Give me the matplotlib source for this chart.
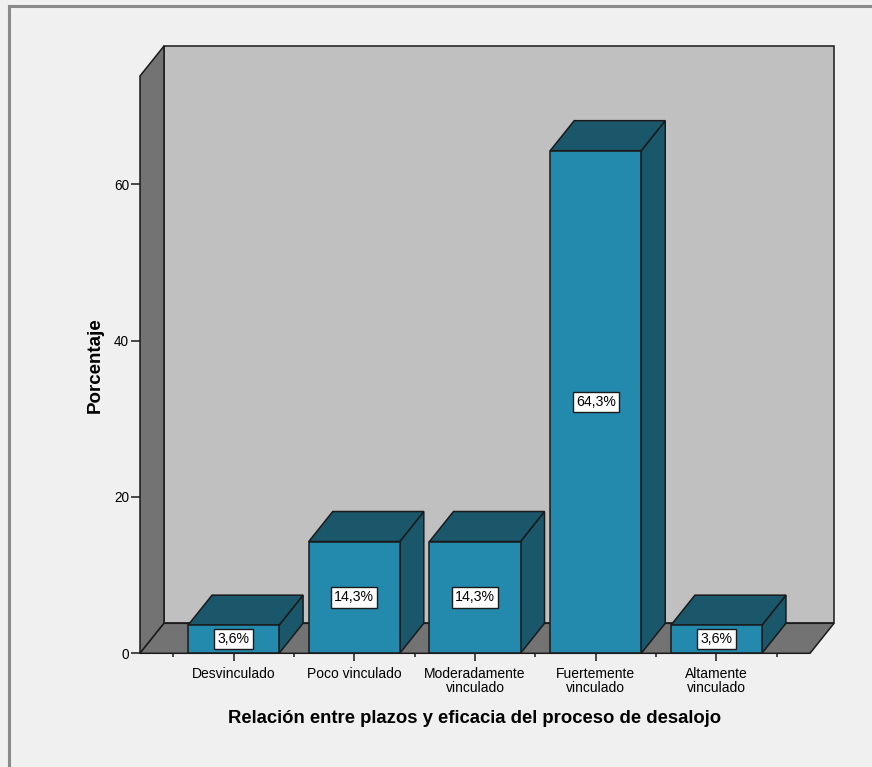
import matplotlib
matplotlib.use("Agg")
import matplotlib.pyplot as plt
from matplotlib.patches import Polygon, Rectangle
from matplotlib.transforms import ScaledTranslation
from matplotlib.ticker import FixedLocator

plt.rcParams['font.family'] = ['Liberation Sans', 'DejaVu Sans']

categories = ["Desvinculado", "Poco vinculado", "Moderadamente\nvinculado",
              "Fuertemente\nvinculado", "Altamente\nvinculado"]
percentages = [3.6, 14.3, 14.3, 64.3, 3.6]
value_labels = ["3,6%", "14,3%", "14,3%", "64,3%", "3,6%"]
y_ticks = [0, 20, 40, 60]
x_title = "Relación entre plazos y eficacia del proceso de desalojo"
y_title = "Porcentaje"

W, H = 872, 767
DPI = 100
fig = plt.figure(figsize=(W / DPI, H / DPI), dpi=DPI)
fig.patch.set_facecolor("#f0f0f0")

# outer frame (left and top edges)
fig.add_artist(plt.Line2D([8.5 / W, 8.5 / W], [0, 1 - 6 / H], transform=fig.transFigure,
                          color="#8a8a8a", lw=2.2))
fig.add_artist(plt.Line2D([8.5 / W, 1], [1 - 6 / H, 1 - 6 / H], transform=fig.transFigure,
                          color="#8a8a8a", lw=2.2))

# front plane of the 3D box
left_px, right_px = 140, 810
base_px, top_px = 653.3, 76
ax = fig.add_axes([left_px / W, (H - base_px) / H,
                   (right_px - left_px) / W, (base_px - top_px) / H])
ax.set_facecolor("none")
xmin, xmax = -0.775, 4.775
ymax = 73.85
ax.set_xlim(xmin, xmax)
ax.set_ylim(0, ymax)
for s in ax.spines.values():
    s.set_visible(False)

# depth offset (pixels) for the 3D effect
dx, dy = 24 / DPI, 30 / DPI
back = ax.transData + ScaledTranslation(dx, dy, fig.dpi_scale_trans)
front = ax.transData

wall_grey = "#c0c0c0"
side_grey = "#737373"
edge = "#1a1a1a"


def face(points, color, z):
    # points: list of (x, y, on_back_plane)
    disp = [(back if b else front).transform((x, y)) for x, y, b in points]
    data_pts = ax.transData.inverted().transform(disp)
    p = Polygon(data_pts, closed=True, facecolor=color, edgecolor=edge,
                lw=1.1, zorder=z, clip_on=False, joinstyle="miter")
    ax.add_patch(p)
    return p


# back wall
face([(xmin, 0, 1), (xmax, 0, 1), (xmax, ymax, 1), (xmin, ymax, 1)], wall_grey, 1)
# left side wall
face([(xmin, 0, 0), (xmin, 0, 1), (xmin, ymax, 1), (xmin, ymax, 0)], side_grey, 2)
# floor
face([(xmin, 0, 0), (xmax, 0, 0), (xmax, 0, 1), (xmin, 0, 1)], side_grey, 2)

bar_front = "#2389ad"
bar_dark = "#1a576b"
bw = 0.754
for i, (v, lab) in enumerate(zip(percentages, value_labels)):
    x0, x1 = i - bw / 2, i + bw / 2
    # side face
    face([(x1, 0, 0), (x1, 0, 1), (x1, v, 1), (x1, v, 0)], bar_dark, 3)
    # top face
    face([(x0, v, 0), (x1, v, 0), (x1, v, 1), (x0, v, 1)], bar_dark, 3)
    # front face
    ax.add_patch(Rectangle((x0, 0), bw, v, facecolor=bar_front, edgecolor=edge,
                           lw=1.1, zorder=4, clip_on=False))
    ax.text(i, v / 2, lab, ha="center", va="center", fontsize=10.2, zorder=5,
            bbox=dict(boxstyle="square,pad=0.22", facecolor="white",
                      edgecolor=edge, lw=1.0))

# ticks
ax.set_yticks(y_ticks)
ax.set_yticklabels([str(t) for t in y_ticks], fontsize=9.8)
ax.set_xticks(range(len(categories)))
ax.set_xticklabels(categories, fontsize=10, linespacing=1.0)
ax.xaxis.set_minor_locator(FixedLocator([i - 0.5 for i in range(len(categories) + 1)]))
ax.tick_params(axis="y", length=6.5, width=1.1, color=edge, pad=1.5)
ax.tick_params(axis="x", which="major", length=5.5, width=1.1, color=edge, pad=4.5)
ax.tick_params(axis="x", which="minor", length=3.2, width=1.1, color=edge)

ax.set_xlabel(x_title, fontsize=13.3, fontweight="bold", labelpad=11)
ax.set_ylabel(y_title, fontsize=13.5, fontweight="bold")
ax.yaxis.set_label_coords(-0.054, 0.5)

fig.savefig("out.png", dpi=DPI, facecolor=fig.get_facecolor())
